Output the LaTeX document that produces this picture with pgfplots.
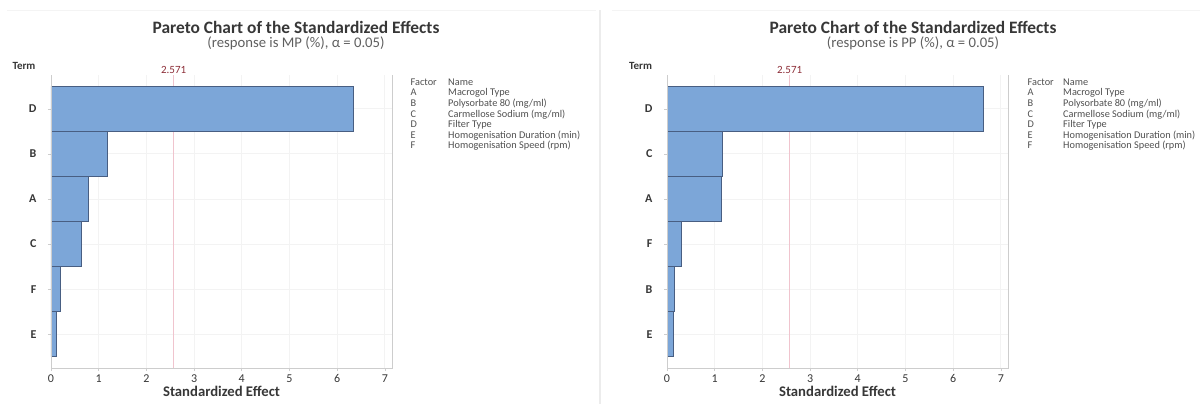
\documentclass[border=0pt]{standalone}
\usepackage{fontspec}
\setmainfont{Carlito}
\usepackage{pgfplots}
\pgfplotsset{compat=1.18}
\definecolor{barfill}{RGB}{124,166,216}
\definecolor{barline}{RGB}{72,94,130}
\definecolor{gridc}{RGB}{243,243,243}
\definecolor{framec}{RGB}{205,205,205}
\definecolor{refc}{RGB}{240,196,206}
\definecolor{reflab}{RGB}{140,45,55}
\definecolor{titlec}{RGB}{55,55,55}
\definecolor{subc}{RGB}{95,95,95}
\definecolor{legc}{RGB}{80,80,80}
\definecolor{sepc}{RGB}{236,236,236}

\pgfplotsset{pareto/.style={
  scale only axis, width=341pt, height=293pt, anchor=south west,
  xmin=0, xmax=7.15, ymin=-0.75, ymax=5.75,
  xtick={0,...,7}, ytick={0,...,5},
  xtick pos=bottom, ytick pos=left,
  xbar, bar width=1,
  grid=major, major grid style={gridc, line width=0.8pt},
  axis line style={draw=none},
  tick style={framec, line width=0.6pt}, tick align=outside, major tick length=3pt,
  /pgf/number format/assume math mode=true,
  xticklabel style={font=\fontsize{12}{14}\selectfont, text=titlec},
  yticklabel style={font=\fontsize{12}{14}\selectfont\bfseries, text=titlec, xshift=-8pt},
  xlabel={Standardized Effect},
  xlabel style={font=\fontsize{14.7}{17}\selectfont\bfseries, text=titlec, yshift=3pt},
  clip=false,
}}

\newcommand{\legendblock}[2]{%
  \node[anchor=north west, inner sep=0pt, align=left, text=legc,
        font=\fontsize{10.3}{10.6}\selectfont] at (#1pt,-78.5pt)
       {Factor\\A\\B\\C\\D\\E\\F};
  \node[anchor=north west, inner sep=0pt, align=left, text=legc,
        font=\fontsize{10.3}{10.6}\selectfont] at (#2pt,-78.5pt)
       {Name\\Macrogol Type\\Polysorbate 80 (mg/ml)\\Carmellose Sodium (mg/ml)\\Filter Type\\Homogenisation Duration (min)\\Homogenisation Speed (rpm)};
}

\begin{document}
\begin{tikzpicture}
\path[use as bounding box] (0pt,0pt) rectangle (1204pt,-406pt);
% panel frames
\draw[sepc!60, line width=0.8pt] (7pt,-10pt) -- (596pt,-10pt);
\draw[sepc!60, line width=0.8pt] (612pt,-10pt) -- (1200pt,-10pt);
\draw[sepc, line width=1.5pt] (600pt,-10pt) -- (600pt,-404pt);

% ---------------- left chart
\node[font=\fontsize{17.4}{20}\selectfont\bfseries, text=titlec] at (296pt,-27pt) {Pareto Chart of the Standardized Effects};
\node[font=\fontsize{14.7}{17}\selectfont, text=subc] at (296pt,-43pt) {(response is MP (\%), α = 0.05)};
\node[font=\fontsize{11}{13}\selectfont\bfseries, text=titlec] at (24pt,-66pt) {Term};
\begin{axis}[pareto, at={(51pt,-368pt)}, yticklabels={E,F,C,A,B,D}]
  \addplot[sharp plot, refc, line width=1pt, forget plot] coordinates {(2.571,-0.75) (2.571,5.75)};
  \addplot[fill=barfill, draw=barline, line width=0.5pt] coordinates {
    (6.34,5) (1.18,4) (0.79,3) (0.63,2) (0.19,1) (0.105,0)};
  \draw[framec, line width=0.8pt] (rel axis cs:0,1) -- (rel axis cs:0,0) -- (rel axis cs:1,0) -- (rel axis cs:1,1);
  \node[font=\fontsize{11}{13}\selectfont, text=reflab] at (axis cs:2.571,5.75) [yshift=5.5pt] {2.571};
\end{axis}
\legendblock{410.5}{448}

% ---------------- right chart
\node[font=\fontsize{17.4}{20}\selectfont\bfseries, text=titlec] at (913pt,-27pt) {Pareto Chart of the Standardized Effects};
\node[font=\fontsize{14.7}{17}\selectfont, text=subc] at (913pt,-43pt) {(response is PP (\%), α = 0.05)};
\node[font=\fontsize{11}{13}\selectfont\bfseries, text=titlec] at (640.5pt,-66pt) {Term};
\begin{axis}[pareto, at={(667pt,-368pt)}, yticklabels={E,B,F,A,C,D}]
  \addplot[sharp plot, refc, line width=1pt, forget plot] coordinates {(2.571,-0.75) (2.571,5.75)};
  \addplot[fill=barfill, draw=barline, line width=0.5pt] coordinates {
    (6.63,5) (1.15,4) (1.13,3) (0.30,2) (0.16,1) (0.14,0)};
  \draw[framec, line width=0.8pt] (rel axis cs:0,1) -- (rel axis cs:0,0) -- (rel axis cs:1,0) -- (rel axis cs:1,1);
  \node[font=\fontsize{11}{13}\selectfont, text=reflab] at (axis cs:2.571,5.75) [yshift=5.5pt] {2.571};
\end{axis}
\legendblock{1027.5}{1063}
\end{tikzpicture}
\end{document}
